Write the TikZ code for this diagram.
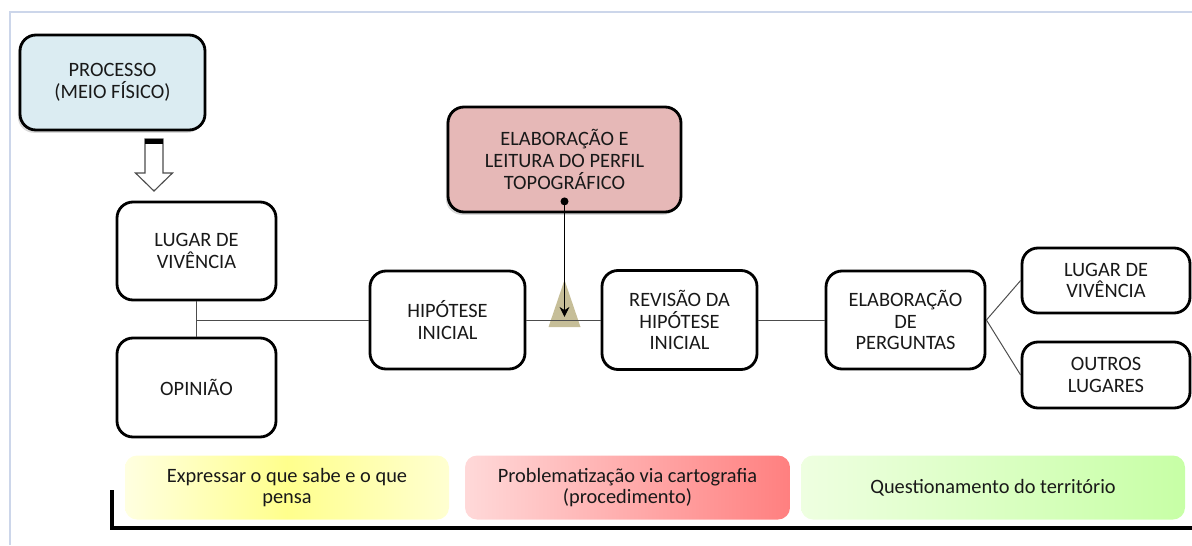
\documentclass[tikz,border=0pt]{standalone}
\usepackage{fontspec}
\setmainfont{Carlito}
\usetikzlibrary{shadows,arrows.meta,calc}
\definecolor{procblue}{RGB}{219,236,242}
\definecolor{perfilred}{RGB}{230,184,183}
\definecolor{triolive}{RGB}{198,190,152}
\definecolor{frameblue}{RGB}{204,214,234}

\begin{document}
\begin{tikzpicture}[
    stage/.style={rectangle, rounded corners=0.4cm, draw=black, line width=2pt, fill=white, align=center, font=\fontsize{14.5}{15.5}\selectfont, text=black!90},
    stage_shadow/.style={stage, drop shadow={shadow xshift=-1.5pt, shadow yshift=-2pt, opacity=0.3}},
    band/.style={rectangle, rounded corners=0.3cm, minimum height=1.6cm, align=center, font=\fontsize{14.5}{15}\selectfont, text=black!90},
    link/.style={draw=black!70, line width=0.7pt},
    link_arrow/.style={link, draw=black, -{Stealth[length=7pt, width=7pt]}},
    hollow_arrow/.style={draw=black!70, fill=white, line width=0.8pt},
    node distance=1cm,
    ]
\useasboundingbox (0,0) rectangle (29.8,-13.625);

% frame of the figure
\coordinate (frtop) at (29.8,-0.3);
\coordinate (frbot) at (0.25,-13.625);
\draw[frameblue, line width=0.8pt] (frbot) |- (frtop);

\node[stage_shadow, fill=procblue, minimum width=4.625cm, minimum height=2.375cm] (proc) at (2.8125,-2.0625) {PROCESSO\\(MEIO FÍSICO)};
\node[stage, minimum width=3.975cm, minimum height=2.45cm, below of=proc, xshift=2.1cm, yshift=-3.2125cm] (lugar1) {LUGAR DE\\VIVÊNCIA};
\node[stage, minimum width=3.975cm, minimum height=2.475cm, below of=lugar1, yshift=-2.4125cm] (opin) {OPINIÃO};
\node[stage, minimum width=3.875cm, minimum height=2.45cm] (hip) at (11.1875,-8.0) {HIPÓTESE\\INICIAL};
\node[stage, minimum width=3.875cm, minimum height=2.475cm, right of=hip, xshift=4.8cm] (rev) {REVISÃO DA\\HIPÓTESE\\INICIAL};
\node[stage_shadow, fill=perfilred, minimum width=5.825cm, minimum height=2.625cm, above of=hip, xshift=2.925cm, yshift=3.0125cm] (perfil) {ELABORAÇÃO E\\LEITURA DO PERFIL\\TOPOGRÁFICO};
\node[stage, minimum width=3.975cm, minimum height=2.45cm, right of=rev, xshift=4.65cm] (perg) {ELABORAÇÃO\\DE\\PERGUNTAS};
\node[stage, minimum width=4.2cm, minimum height=1.625cm, right of=perg, xshift=4.0125cm, yshift=0.9875cm] (lugar2) {LUGAR DE\\VIVÊNCIA};
\node[stage, minimum width=4.2cm, minimum height=1.65cm, right of=perg, xshift=4.0125cm, yshift=-1.375cm] (outros) {OUTROS\\LUGARES};

% bands at the bottom
\node[band, minimum width=8.1cm, left color=yellow!12, right color=yellow!18, middle color=yellow!45] (sabe) at (7.175,-12.1875) {Expressar o que sabe e o que\\pensa};
\node[band, minimum width=8.125cm, left color=red!15, right color=red!50, right of=sabe, xshift=7.5125cm] (probl) {Problematização via cartografia\\(procedimento)};
\node[band, minimum width=9.6cm, left color=green!40!lime!12, right color=green!50!lime!35, right of=probl, xshift=8.1375cm] (quest) {Questionamento do território};

\coordinate (brtop) at (2.8,-12.25);
\coordinate (brend) at (29.8,-13.2);
\draw[line width=2.8pt] (brtop) |- (brend);

% hollow arrow below the process
\coordinate (arrtop) at (3.85,-3.475);
\draw[hollow_arrow] (arrtop) ++(-0.225,0) -- ++(0,-0.85) -- ++(-0.2375,0) -- ++(0.4625,-0.45) -- ++(0.4625,0.45) -- ++(-0.2375,0) -- ++(0,0.85) -- cycle;
\fill (arrtop) ++(-0.225,0) rectangle ++(0.45,-0.125);

\coordinate (jn) at (lugar1.south |- hip);
\coordinate (tri) at (perfil |- hip);
\coordinate (dot) at ([yshift=0.3cm]perfil.south);
\fill[triolive] (tri) ++(-0.4,-0.175) -- ++(0.8,0) -- ++(-0.4,1.175) -- cycle;

\draw[link] (lugar1) -- (opin);
\draw[link] (jn) -- (hip);
\draw[link] (hip) -- (rev);
\draw[link] (rev) -- (perg);
\draw[link] (perg.east) -- (lugar2.west);
\draw[link] (perg.east) -- (outros.west);
\fill (dot) circle (0.1);
\draw[link_arrow] (dot) -- ([yshift=0.08cm]tri);

\end{tikzpicture}
\end{document}
